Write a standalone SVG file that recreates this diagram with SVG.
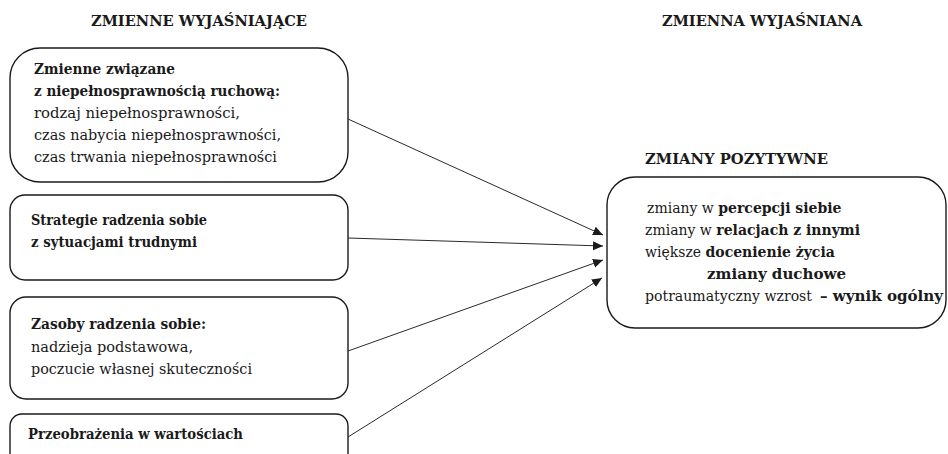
<svg xmlns="http://www.w3.org/2000/svg" width="948" height="454" viewBox="0 0 948 454">
<style>
text{font-family:"DejaVu Serif","Liberation Serif",serif;font-size:14.5px;fill:#1a1a1a}
.b{font-weight:bold;font-size:14.4px}
.r{font-size:14px}
.rb{font-weight:bold;font-size:14px}
.t{font-weight:bold;font-size:14.3px}
.box{fill:#fff;stroke:#1a1a1a;stroke-width:1.4}
.con{stroke:#2a2a2a;stroke-width:1;fill:none}
</style>
<defs>
<marker id="ah" viewBox="0 0 10 10" refX="10" refY="5" markerWidth="10" markerHeight="10" markerUnits="userSpaceOnUse" orient="auto">
<path d="M0,0.5 L10,5 L0,9.5 Z" fill="#1a1a1a"/>
</marker>
</defs>
<rect width="948" height="454" fill="#fff"/>
<text class="t" x="91" y="26" textLength="216" lengthAdjust="spacingAndGlyphs">ZMIENNE WYJAŚNIAJĄCE</text>
<text class="t" x="662" y="26" textLength="200" lengthAdjust="spacingAndGlyphs">ZMIENNA WYJAŚNIANA</text>
<g id="n1">
<rect class="box" x="10" y="48" width="338" height="134" rx="30" ry="30"/>
<text class="b" x="34" y="74" textLength="141" lengthAdjust="spacingAndGlyphs">Zmienne związane</text>
<text class="b" x="34" y="96" textLength="246" lengthAdjust="spacingAndGlyphs">z niepełnosprawnością ruchową:</text>
<text x="34" y="118" textLength="206" lengthAdjust="spacingAndGlyphs">rodzaj niepełnosprawności,</text>
<text x="34" y="140" textLength="247" lengthAdjust="spacingAndGlyphs">czas nabycia niepełnosprawności,</text>
<text x="34" y="162" textLength="243" lengthAdjust="spacingAndGlyphs">czas trwania niepełnosprawności</text>
</g>
<g id="n2">
<rect class="box" x="10" y="195" width="338" height="85" rx="15" ry="15"/>
<text class="b" x="31" y="225" textLength="176" lengthAdjust="spacingAndGlyphs">Strategie radzenia sobie</text>
<text class="b" x="31" y="247" textLength="166" lengthAdjust="spacingAndGlyphs">z sytuacjami trudnymi</text>
</g>
<g id="n3">
<rect class="box" x="10" y="297" width="338" height="102" rx="16" ry="16"/>
<text class="b" x="31" y="329" textLength="175" lengthAdjust="spacingAndGlyphs">Zasoby radzenia sobie:</text>
<text x="31" y="352" textLength="162" lengthAdjust="spacingAndGlyphs">nadzieja podstawowa,</text>
<text x="31" y="374" textLength="221" lengthAdjust="spacingAndGlyphs">poczucie własnej skuteczności</text>
</g>
<g id="n4">
<rect class="box" x="10" y="414" width="338" height="60" rx="12" ry="12"/>
<text class="b" x="28" y="439" textLength="215" lengthAdjust="spacingAndGlyphs">Przeobrażenia w wartościach</text>
</g>
<g id="n5">
<text class="t" x="645" y="164" textLength="183" lengthAdjust="spacingAndGlyphs">ZMIANY POZYTYWNE</text>
<rect class="box" x="607" y="177" width="339" height="151" rx="28" ry="28"/>
<text class="r" x="647" y="213">zmiany w <tspan class="rb">percepcji siebie</tspan></text>
<text class="r" x="645" y="235">zmiany w <tspan class="rb">relacjach z innymi</tspan></text>
<text class="r" x="645" y="257">większe <tspan class="rb">docenienie życia</tspan></text>
<text class="rb" x="707" y="279" textLength="139" lengthAdjust="spacingAndGlyphs">zmiany duchowe</text>
<text class="r" x="645" y="301" textLength="167" lengthAdjust="spacingAndGlyphs">potraumatyczny wzrost</text>
<text class="rb" x="820" y="301" textLength="123" lengthAdjust="spacingAndGlyphs">– wynik ogólny</text>
</g>
<g id="connectors">
<line class="con" x1="348" y1="119" x2="603" y2="235" marker-end="url(#ah)"/>
<line class="con" x1="348" y1="238" x2="603" y2="246" marker-end="url(#ah)"/>
<line class="con" x1="348" y1="351" x2="603" y2="260" marker-end="url(#ah)"/>
<line class="con" x1="348" y1="437" x2="602" y2="278" marker-end="url(#ah)"/>
</g>
</svg>
